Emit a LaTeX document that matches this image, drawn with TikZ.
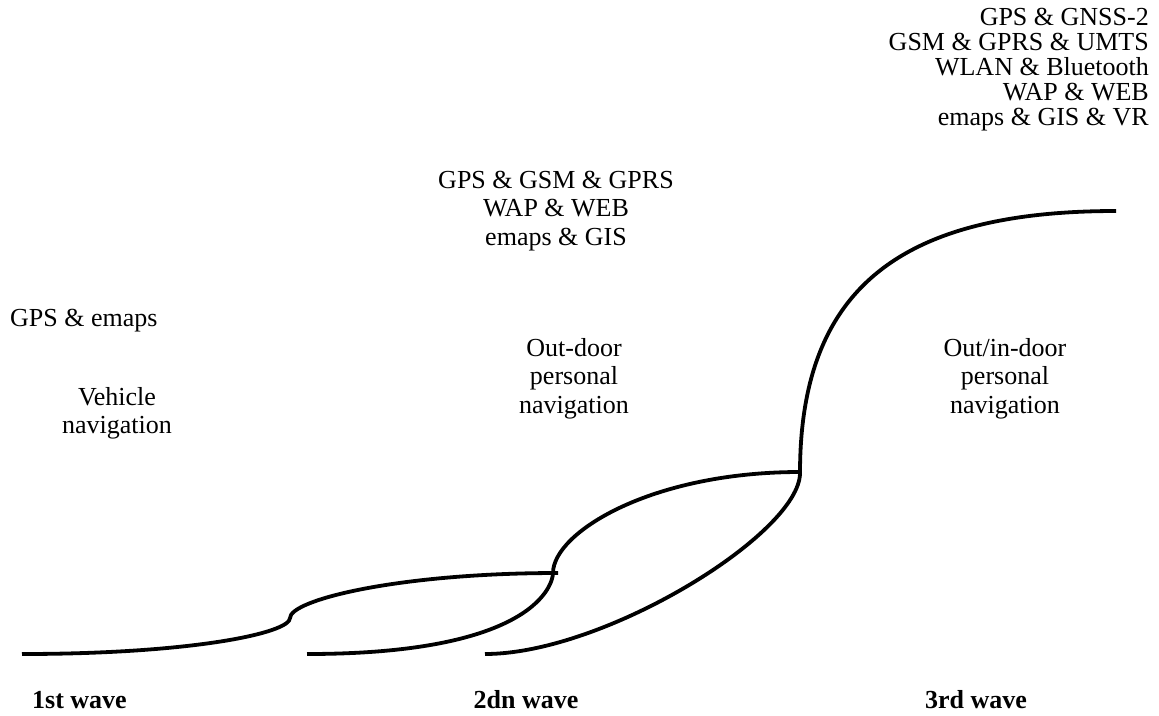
\documentclass[tikz,border=0pt]{standalone}
\usepackage{fontspec}
\setmainfont{Liberation Serif}
\begin{document}
\begin{tikzpicture}[x=1pt,y=-1pt,
  wave/.style={line width=3.8pt},
  lbl/.style={font=\fontsize{26}{28.5}\selectfont, inner sep=0pt, align=center, anchor=base},
  techr/.style={font=\fontsize{26}{25}\selectfont, inner sep=0pt, align=right, anchor=base east},
  wavelbl/.style={font=\bfseries\fontsize{26}{28.5}\selectfont, inner sep=0pt, anchor=base}]
\useasboundingbox[fill=white] (0,0) rectangle (1159,715);
% curve key points
\coordinate (c1s) at (22,654);
\coordinate (c1m) at (290,618);
\coordinate (c1e) at (558,573);
\coordinate (c2s) at (307,654);
\coordinate (c2m) at (553,573);
\coordinate (c2e) at (800,472);
\coordinate (c3s) at (485,654);
\coordinate (c3m) at (800,473);
\coordinate (c3e) at (1116,211);
% waves
\draw[wave] (c1s) .. controls +(170,0) and +(0,15) .. (c1m)
                  .. controls +(0,-18) and +(-160,0) .. (c1e);
\draw[wave] (c2s) .. controls +(230,0) and +(0,10) .. (c2m)
                  .. controls +(0,-40) and +(-150,0) .. (c2e);
\draw[wave] (c3s) .. controls +(120,0) and +(0,60) .. (c3m)
                  .. controls +(0,-185) and +(-215,0) .. (c3e);
% texts (base anchor = baseline of the last line)
\node[lbl, anchor=base west] (t1) at (10,326) {GPS \& emaps};
\node[lbl] (n1) at (117,433.5) {Vehicle\\navigation};
\node[lbl] (t2) at (556,245) {GPS \& GSM \& GPRS\\WAP \& WEB\\emaps \& GIS};
\node[lbl] (n2) at (574,413) {Out-door\\personal\\navigation};
\node[techr] (t3) at (1149,125.6) {GPS \& GNSS-2\\GSM \& GPRS \& UMTS\\WLAN \& Bluetooth\\WAP \& WEB\\emaps \& GIS \& VR};
\node[lbl] (n3) at (1005,413) {Out/in-door\\personal\\navigation};
\node[wavelbl] (w1) at (79.5,708) {1st wave};
\node[wavelbl] (w2) at (526,708) {2dn wave};
\node[wavelbl] (w3) at (976,708) {3rd wave};
\end{tikzpicture}
\end{document}
